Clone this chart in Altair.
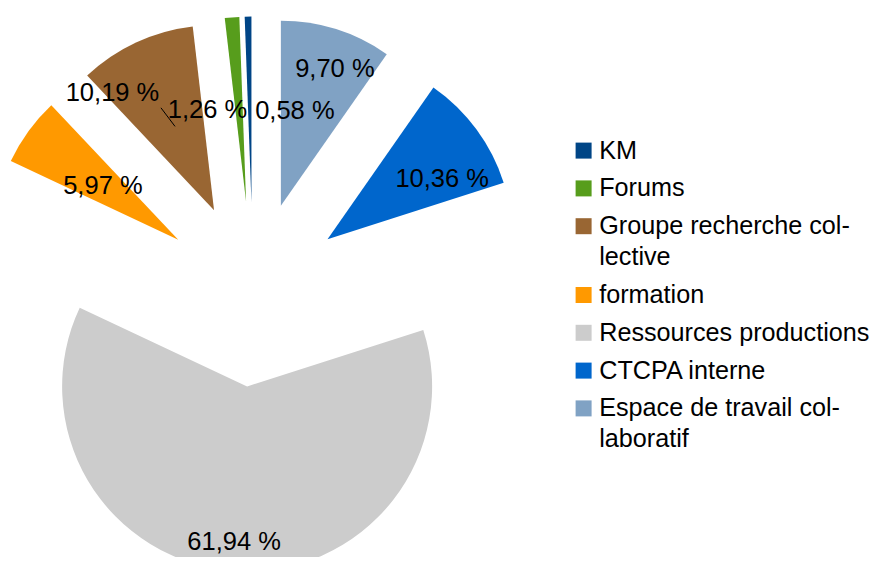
import altair as alt
import pandas as pd

# ---- data (legend order) ----
categories = [
    "KM",
    "Forums",
    "Groupe recherche collective",
    "formation",
    "Ressources productions",
    "CTCPA interne",
    "Espace de travail collaboratif",
]
shares = [0.58, 1.26, 10.19, 5.97, 61.94, 10.36, 9.70]
colors = ["#004586", "#579d1c", "#996633", "#ff9900", "#cccccc", "#0066cc", "#80a2c4"]

# legend label wrapping (as in the original)
wrapped = {
    "Groupe recherche collective": ["Groupe recherche col-", "lective"],
    "Espace de travail collaboratif": ["Espace de travail col-", "laboratif"],
}

# ---- layout constants ----
CX, CY = 245.1, 286.1      # pie centre (pixels)
R = 185                    # pie radius
EXPLODE = 92.5             # radial offset of every slice
LR = 140                   # label distance from slice apex
# label nudges (pixels) reproducing the original label placement
nudge = {
    "KM": (46, 49),
    "Forums": (-28, 48),
    "Groupe recherche collective": (-42.5, 10),
    "formation": (38, 28),
    "Ressources productions": (-4, 16),
    "CTCPA interne": (2, 23),
    "Espace de travail collaboratif": (12, -3),
}

df = pd.DataFrame({
    "cat": categories,
    "share": shares,
    "idx": list(range(len(categories))),
    "label": [f"{v:.2f}".replace(".", ",") + " %" for v in shares],
})


def case_expr(mapping, k):
    parts = "".join(f"datum.cat == '{c}' ? {v[k]} : " for c, v in mapping.items())
    return f"({parts}0)"


label_expr = "".join(
    f"datum.label == '{c}' ? [{', '.join(repr(s) for s in lines)}] : " for c, lines in wrapped.items()
) + "datum.label"

base = (
    alt.Chart(df)
    .transform_joinaggregate(total="sum(share)")
    .transform_window(
        cum="sum(share)",
        sort=[alt.SortField("idx", order="descending")],
        frame=[None, 0],
    )
    .transform_calculate(t2="2*PI*datum.cum/datum.total")
    .transform_calculate(t1="2*PI*(datum.cum - datum.share)/datum.total")
    .transform_calculate(mid="(datum.t1 + datum.t2)/2")
    .transform_calculate(px=f"{CX} + {EXPLODE}*sin(datum.mid)")
    .transform_calculate(py=f"{CY} - {EXPLODE}*cos(datum.mid)")
)

arcs = base.mark_arc(radius=R, strokeWidth=0).encode(
    theta=alt.Theta("t1:Q", scale=None, stack=None),
    theta2=alt.Theta2("t2:Q"),
    x=alt.X("px:Q", scale=None, stack=None),
    y=alt.Y("py:Q", scale=None, stack=None),
    color=alt.Color(
        "cat:N",
        scale=alt.Scale(domain=categories, range=colors),
        legend=alt.Legend(
            orient="none",
            legendX=563,
            legendY=130,
            title=None,
            symbolType="square",
            symbolSize=256,
            symbolStrokeWidth=0,
            labelFont="Liberation Sans",
            labelFontSize=25.2,
            labelColor="black",
            labelOffset=3,
            labelLimit=400,
            rowPadding=11.8,
            padding=0,
            labelExpr=label_expr,
        ),
    ),
)

labels = (
    base.transform_calculate(
        lx=f"datum.px + {LR}*sin(datum.mid) + {case_expr(nudge, 0)}"
    )
    .transform_calculate(
        ly=f"datum.py - {LR}*cos(datum.mid) + {case_expr(nudge, 1)}"
    )
    .mark_text(font="Liberation Sans", fontSize=25.5, color="black", align="center", baseline="middle")
    .encode(
        x=alt.X("lx:Q", scale=None, stack=None),
        y=alt.Y("ly:Q", scale=None, stack=None),
        text="label:N",
    )
)

leader = (
    base.transform_filter("datum.cat == 'Groupe recherche collective'")
    .transform_calculate(
        lx=f"datum.px + {LR}*sin(datum.mid) + {case_expr(nudge, 0)} + 48.5"
    )
    .transform_calculate(
        ly=f"datum.py - {LR}*cos(datum.mid) + {case_expr(nudge, 1)} + 14.5"
    )
    .transform_calculate(ax=f"datum.px + {R/2}*sin(datum.mid)")
    .transform_calculate(ay=f"datum.py - {R/2}*cos(datum.mid)")
    .mark_rule(color="black", strokeWidth=1)
    .encode(
        x=alt.X("lx:Q", scale=None, stack=None),
        y=alt.Y("ly:Q", scale=None, stack=None),
        x2="ax:Q",
        y2="ay:Q",
    )
)

chart = (
    alt.layer(arcs, leader, labels)
    .properties(
        width=864,
        height=549,
        padding=0,
        autosize=alt.AutoSizeParams(type="none"),
    )
    .configure(
        view=alt.ViewConfig(stroke=None),
        style={"guide-label": {"lineHeight": 31}},
    )
)

chart.save("out.html", embed_options={"renderer": "svg", "actions": False})
